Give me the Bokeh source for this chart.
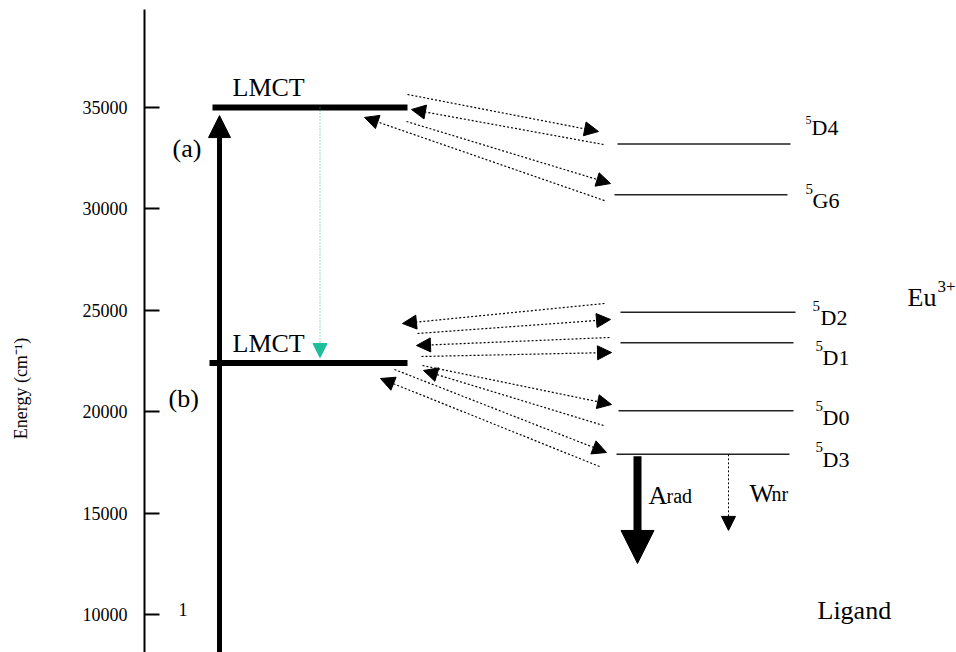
import math
from bokeh.plotting import figure
from bokeh.layouts import row
from bokeh.models import Range1d, FixedTicker, Arrow, NormalHead, ColumnDataSource
from bokeh.core.properties import value
from bokeh.embed import file_html
from bokeh.resources import INLINE

# ---------------- level data (energies in cm^-1) ----------------
tick_values = [10000, 15000, 20000, 25000, 30000, 35000]

lmct_tags = ["(a)", "(b)"]
lmct_energy = [35000, 22400]

eu_mult = ["5", "5", "5", "5", "5", "5"]
eu_terms = ["D4", "G6", "D2", "D1", "D0", "D3"]
eu_energy = [33200, 30700, 24900, 23400, 20050, 17900]

# energy-transfer arrows: ligand state index, Eu level, direction
transfer_lmct = [0, 0, 0, 0, 1, 1, 1, 1, 1, 1, 1, 1]
transfer_eu = ["D4", "D4", "G6", "G6", "D2", "D2", "D1", "D1", "D0", "D0", "D3", "D3"]
transfer_dir = ["fwd", "back", "fwd", "back", "back", "fwd",
                "back", "fwd", "fwd", "back", "fwd", "back"]

# excitation / relaxation end energies
excite_top = 34600        # (a) absorption arrow tip
lmct_relax_end = 22670    # LMCT(a) -> LMCT(b) tip
arad_end = 12520
wnr_end = 14150

# ---------------- layout ----------------
FONT = "Liberation Serif"
W, H = 956, 652
TOP, LEFT = 9, 144
LABEL_W = 40                      # strip holding the rotated axis title
Y_MIN, Y_MAX = 8130, 39830
PX = (Y_MAX - Y_MIN) / (H - TOP)   # cm^-1 per screen pixel


def up(px):
    return px * PX


# narrow strip on the left carrying the y-axis title
t = figure(width=LABEL_W, height=H, output_backend="svg", toolbar_location=None,
           x_range=Range1d(0, LABEL_W), y_range=Range1d(Y_MIN, Y_MAX),
           x_axis_type=None, y_axis_type=None, min_border_left=0, min_border_right=0,
           min_border_top=TOP, min_border_bottom=0)
t.outline_line_color = None
t.grid.visible = False
t.text(x=[LABEL_W / 2], y=[Y_MIN + up(H - 388)], text=["Energy (cm\u207b\u00b9)"],
       angle=math.pi / 2, text_align="center", text_baseline="middle",
       text_font=value(FONT), text_font_size="18px", text_color="black")

p = figure(width=W - LABEL_W, height=H, output_backend="svg", toolbar_location=None,
           x_range=Range1d(LEFT, W), y_range=Range1d(Y_MIN, Y_MAX),
           x_axis_type=None, min_border_left=LEFT - LABEL_W, min_border_right=0,
           min_border_top=TOP, min_border_bottom=0)
p.outline_line_color = None
p.grid.visible = False
p.background_fill_color = "white"
p.border_fill_color = "white"

ax = p.yaxis[0]
ax.ticker = FixedTicker(ticks=tick_values)
ax.major_tick_in = 15
ax.major_tick_out = 0
ax.minor_tick_line_color = None
ax.axis_line_width = 2
ax.major_tick_line_width = 2
ax.major_label_standoff = 17
ax.major_label_text_font = FONT
ax.major_label_text_font_size = "18px"
ax.major_label_text_color = "black"

# ligand LMCT bars
lmct_x0 = [212, 209]
lmct_x1 = [407, 407]
p.segment(x0=lmct_x0, x1=lmct_x1, y0=lmct_energy, y1=lmct_energy,
          line_color="black", line_width=6)

# Eu3+ levels
eu_x0 = [617, 614, 620, 620, 618, 616]
eu_x1 = [790, 787, 795, 793, 793, 789]
p.segment(x0=eu_x0, x1=eu_x1, y0=eu_energy, y1=eu_energy,
          line_color="#222222", line_width=1.5)

# absorption arrow (a)
p.add_layout(Arrow(end=NormalHead(size=22, fill_color="black", line_color="black"),
                   x_start=219, y_start=Y_MIN, x_end=219, y_end=excite_top,
                   line_color="black", line_width=5))

# LMCT(a) -> LMCT(b) relaxation
p.add_layout(Arrow(end=NormalHead(size=14, fill_color="#1dbf9b", line_color="#1dbf9b"),
                   x_start=319.5, y_start=lmct_energy[0], x_end=319.5, y_end=lmct_relax_end,
                   line_color="#1dbf9b", line_width=1, line_dash="1 2"))

# energy transfer arrows between ligand and Eu levels
lig_x = [407, 411, 406, 364, 402, 417, 416, 421, 422, 423, 394, 380]
lig_dy = [640, -100, -690, -490, 1950, 1457, 865, 323, -121, -367, -318, -762]
eu_xe = [598, 603, 610, 604, 604, 610, 609, 611, 611, 603, 606, 599]
eu_dy = [615, -25, 550, -290, 436, -353, 260, -480, 307, -729, 90, -600]

xs0, ys0, xs1, ys1 = [], [], [], []
for i in range(len(transfer_lmct)):
    yl = lmct_energy[transfer_lmct[i]] + lig_dy[i]
    ye = eu_energy[eu_terms.index(transfer_eu[i])] + eu_dy[i]
    if transfer_dir[i] == "fwd":
        xs0.append(lig_x[i]); ys0.append(yl); xs1.append(eu_xe[i]); ys1.append(ye)
    else:
        xs0.append(eu_xe[i]); ys0.append(ye); xs1.append(lig_x[i]); ys1.append(yl)

tsrc = ColumnDataSource(dict(x0=xs0, y0=ys0, x1=xs1, y1=ys1))
p.add_layout(Arrow(end=NormalHead(size=14, fill_color="black", line_color="black"),
                   source=tsrc, x_start="x0", y_start="y0", x_end="x1", y_end="y1",
                   line_color="black", line_width=1.2, line_dash="2 2"))

# radiative and non-radiative decay from the lowest Eu level
d3 = eu_energy[eu_terms.index("D3")]
p.add_layout(Arrow(end=NormalHead(size=33, fill_color="black", line_color="black"),
                   x_start=637, y_start=d3 - up(2), x_end=637, y_end=arad_end,
                   line_color="black", line_width=8))
p.add_layout(Arrow(end=NormalHead(size=14, fill_color="black", line_color="black"),
                   x_start=728, y_start=d3, x_end=728, y_end=wnr_end,
                   line_color="black", line_width=1, line_dash="2 2"))


# ---------------- texts ----------------
def txt(x, y, s, size, align="left"):
    p.text(x=[x], y=[y], text=[s], text_font=value(FONT), text_font_size=size,
           text_color="black", text_align=align, text_baseline="alphabetic")


for e in lmct_energy:
    txt(232, e + up(19.5), "LMCT", "26px")
txt(172, lmct_energy[0] - up(41), lmct_tags[0], "26px")
txt(168, lmct_energy[1] - up(35), lmct_tags[1], "26px")
txt(178, Y_MIN + up(H - 609), "1", "18px")

# Eu term symbols: multiplicity superscript + term
lab_mult_x = [805, 805, 812, 815, 815, 815]
lab_term_x = [811, 812, 820, 822, 822, 822]
lab_dy = [16.5, -6, -5.5, -15, -7, -5]          # baseline above the level, px
mult_size = ["12px", "15px", "15px", "15px", "15px", "15px"]
mult_rise = [7, 12, 12, 12, 12, 12]
for i, e in enumerate(eu_energy):
    base = e + up(lab_dy[i])
    txt(lab_term_x[i], base, eu_terms[i], "22px")
    txt(lab_mult_x[i], base + up(mult_rise[i]), eu_mult[i], mult_size[i])

txt(907, Y_MIN + up(H - 297), "Eu", "26px")
txt(937, Y_MIN + up(H - 286), "3+", "17px")
txt(817, Y_MIN + up(H - 610), "Ligand", "26px")

txt(648, d3 - up(495 - 453.5), "A", "26px")
txt(666, d3 - up(495 - 453.5), "rad", "20px")
txt(749, d3 - up(493 - 453.5), "W", "26px")
txt(771, d3 - up(493 - 453.5), "nr", "20px")

open("out.html", "w").write(file_html(row(t, p), INLINE))
